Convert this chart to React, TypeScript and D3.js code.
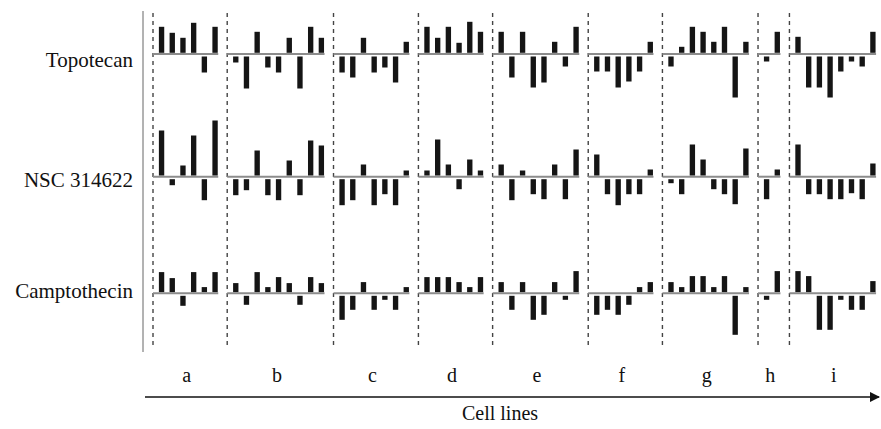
import * as d3 from 'd3';

const cellLines = ['a', 'b', 'c', 'd', 'e', 'f', 'g', 'h', 'i'];
const drugs = ['Topotecan', 'NSC 314622', 'Camptothecin'];

// bar values per cell line (one inner array per cell line)
const topotecan = [
  [26, 20, 15, 30, -16, 26],
  [-6, -32, 21, -11, -16, 15, -32, 26, 15],
  [-16, -21, 15, -16, -11, -26, 11],
  [26, 15, 26, 10, 31, 21],
  [21, -21, 21, -31, -26, 11, -10, 26],
  [-15, -15, -31, -25, -15, 11],
  [-10, 6, 26, 21, 11, 26, -41, 11],
  [-5, 21],
  [16, -31, -31, -41, -15, -5, -10, 21],
];
const nsc314622 = [
  [45, -6, 10, 40, -21, 55],
  [-16, -11, 25, -16, -21, 15, -16, 35, 30],
  [-26, -21, 11, -26, -15, -26, 5],
  [5, 36, 11, -10, 16, 5],
  [11, -21, 5, -15, -20, 11, -20, 26],
  [21, -15, -26, -15, -15, 6],
  [-4, -15, 31, 16, -10, -15, -25, 27],
  [-20, 6],
  [31, -15, -15, -20, -20, -14, -20, 12],
];
const camptothecin = [
  [20, 14, -10, 20, 5, 20],
  [9, -9, 20, 5, 15, 9, -9, 15, 9],
  [-24, -14, 10, -14, -4, -14, 5],
  [15, 15, 15, 10, 5, 15],
  [10, -14, 10, -24, -19, 10, -4, 21],
  [-19, -14, -19, -9, 5, 10],
  [10, 5, 16, 16, 5, 16, -39, 5],
  [-4, 21],
  [21, 16, -34, -34, -4, -14, -14, 11],
];

const series = [topotecan, nsc314622, camptothecin];

export default function App() {
  const width = 881;
  const height = 429;
  const unit = 10.7;
  const gap = 0.935;
  const lead = 0.3;
  const rowBase = [54, 176.7, 293.3];
  const labelBase = [67, 187, 297.5];

  // start position of each cell-line group, in slot units
  const counts = topotecan.map((g) => g.length);
  const starts: number[] = [];
  let acc = 0;
  counts.forEach((n) => {
    starts.push(acc);
    acc += n + gap;
  });

  const x = d3.scaleLinear().domain([0, acc]).range([153, 153 + acc * unit]);
  const y = d3.scaleLinear().domain([0, 10]).range([0, 10]);
  const barW = unit * 0.5;

  const groupCenter = (gi: number) =>
    (x(starts[gi]) + x(starts[gi] + lead + counts[gi])) / 2;

  const serif = { fontFamily: 'Liberation Serif, DejaVu Serif, serif' };

  return (
    <svg
      width={width}
      height={height}
      style={{ position: 'absolute', left: 0, top: 0, background: '#fff' }}
    >
      <defs>
        <marker id="arr" viewBox="0 0 10 10" refX="9" refY="5" markerWidth="7" markerHeight="7" orient="auto">
          <path d="M0,0 L10,5 L0,10 z" fill="#111" />
        </marker>
      </defs>

      {/* left axis */}
      <line x1={143} x2={143} y1={11} y2={352} stroke="#666" strokeWidth={1} />

      {/* dashed separators */}
      {starts.map((s, i) => (
        <line
          key={'d' + i}
          x1={x(s)}
          x2={x(s)}
          y1={13}
          y2={346}
          stroke="#444"
          strokeWidth={1.4}
          strokeDasharray="4,4"
        />
      ))}

      {series.map((rows, ri) => {
        const base = rowBase[ri];
        return (
          <g key={'r' + ri}>
            {rows.map((vals, gi) => {
              const x0 = x(starts[gi]);
              const xEnd = x(starts[gi] + lead + vals.length - 0.5) + barW / 2 + 0.5;
              return (
                <g key={'g' + gi}>
                  <line x1={x0} x2={xEnd} y1={base} y2={base} stroke="#8c8c8c" strokeWidth={2} />
                  {vals.map((v, bi) => {
                    const cx = x(starts[gi] + lead + bi + 0.5);
                    const h = y(Math.abs(v));
                    const top = v >= 0 ? base - 1.2 - h : base + 2.5;
                    return (
                      <rect key={bi} x={cx - barW / 2} y={top} width={barW} height={h} fill="#151515" />
                    );
                  })}
                </g>
              );
            })}
            <text x={133} y={labelBase[ri]} textAnchor="end" style={serif} fontSize={21} fill="#111">
              {drugs[ri]}
            </text>
          </g>
        );
      })}

      {/* cell line letters */}
      {cellLines.map((c, gi) => (
        <text key={'l' + c} x={groupCenter(gi)} y={382} textAnchor="middle" style={serif} fontSize={20} fill="#111">
          {c}
        </text>
      ))}

      <line x1={145} x2={879} y1={397} y2={397} stroke="#111" strokeWidth={1.5} markerEnd="url(#arr)" />
      <text x={500} y={420} textAnchor="middle" style={serif} fontSize={20} fill="#111">
        Cell lines
      </text>
    </svg>
  );
}
